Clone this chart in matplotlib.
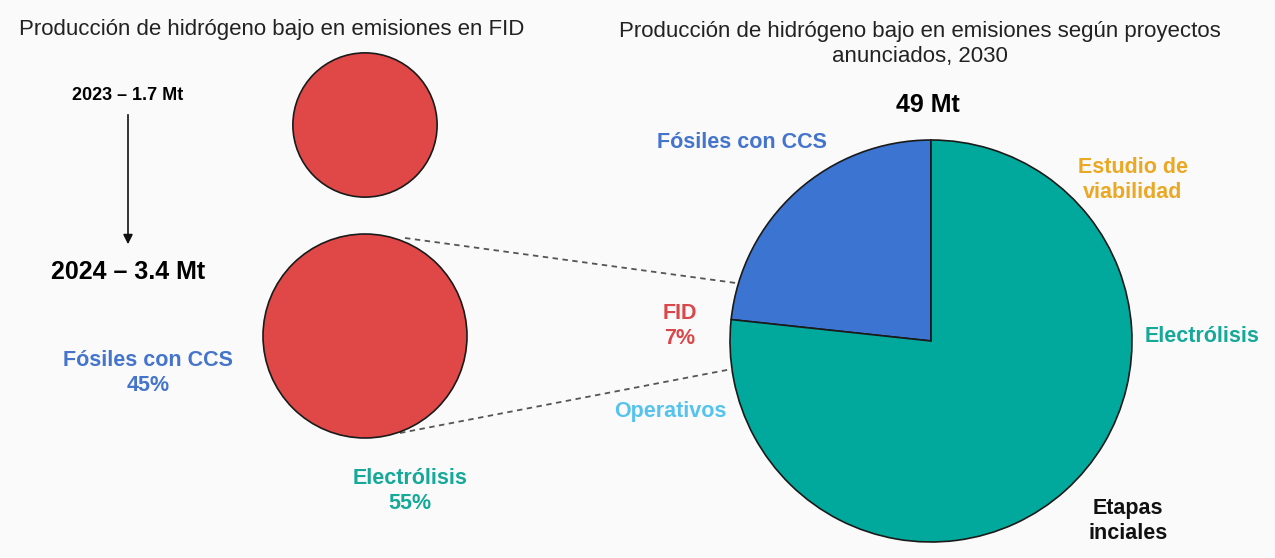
import numpy as np
import matplotlib
matplotlib.use('Agg')
import matplotlib.pyplot as plt
from matplotlib.patches import Circle

# Datos
years = ['2023', '2024']
fid_mt = [1.7, 3.4]
fid_shares = ['Fósiles con CCS', 'Electrólisis']
fid_pct = [45, 55]
total_2030 = 49
pie_labels = ['Fósiles con CCS', 'Electrólisis']
pie_shares = [23.3, 76.7]
stage_labels = ['Estudio de\nviabilidad', 'FID', 'Operativos', 'Etapas\ninciales']
fid_stage_pct = 7

W, H = 1275, 558
bg = '#fafafa'
red = '#e04848'
blue_txt = '#4474cc'
teal_txt = '#16a899'
wedge_colors = ['#3b74d1', '#00a99c']

plt.rcParams['font.family'] = ['Liberation Sans', 'DejaVu Sans']
lab = 15.5

fig = plt.figure(figsize=(W / 100, H / 100), dpi=100, facecolor=bg)
ax = fig.add_axes([0, 0, 1, 1])
ax.set_facecolor(bg)


def Y(py):
    # coordenadas en pixeles desde arriba
    return H - py


# Titulos
ax.text(272, Y(30), 'Producción de hidrógeno bajo en emisiones en FID',
        ha='center', va='center', fontsize=16, color='#222222')
ax.text(920, Y(44), 'Producción de hidrógeno bajo en emisiones según proyectos\nanunciados, 2030',
        ha='center', va='center', fontsize=16, color='#222222', linespacing=1.25)

# Circulos FID (area proporcional a Mt)
k = 102 / np.sqrt(fid_mt[1])
centers = [(365, Y(125)), (365, Y(336))]
for (cx, cy), v in zip(centers, fid_mt):
    ax.add_patch(Circle((cx, cy), k * np.sqrt(v), facecolor=red,
                        edgecolor='#1a1a1a', lw=1.2, zorder=3))

ax.text(128, Y(95), f'{years[0]} – {fid_mt[0]} Mt', ha='center', va='center',
        fontsize=13, fontweight='bold')
ax.annotate('', xy=(128, Y(247)), xytext=(128, Y(112)),
            arrowprops=dict(arrowstyle='-|>', color='#111111', lw=1.2,
                            mutation_scale=14))
ax.text(128, Y(272), f'{years[1]} – {fid_mt[1]} Mt', ha='center', va='center',
        fontsize=18, fontweight='bold')

ax.text(148, Y(373), f'{fid_shares[0]}\n{fid_pct[0]}%', ha='center', va='center',
        fontsize=lab, fontweight='bold', color=blue_txt, linespacing=1.2)
ax.text(410, Y(491), f'{fid_shares[1]}\n{fid_pct[1]}%', ha='center', va='center',
        fontsize=lab, fontweight='bold', color=teal_txt, linespacing=1.2)

# Lineas de conexion
ax.plot([405, 736], [Y(238), Y(283)], ls=(0, (3, 2.5)), color='#555555', lw=1.3, zorder=2)
ax.plot([400, 732], [Y(433), Y(369)], ls=(0, (3, 2.5)), color='#555555', lw=1.3, zorder=2)

# Pastel 2030
ax.pie(pie_shares, colors=wedge_colors, startangle=90, counterclock=True,
       center=(931, Y(341)), radius=201,
       wedgeprops=dict(edgecolor='#1a1a1a', linewidth=1.2), frame=True)

ax.text(928, Y(105), f'{total_2030} Mt', ha='center', va='center',
        fontsize=18, fontweight='bold')
ax.text(742, Y(143), pie_labels[0], ha='center', va='center',
        fontsize=lab, fontweight='bold', color=blue_txt)
ax.text(1202, Y(337), pie_labels[1], ha='center', va='center',
        fontsize=lab, fontweight='bold', color=teal_txt)
ax.text(1133, Y(180), stage_labels[0], ha='center', va='center',
        fontsize=lab, fontweight='bold', color='#eaa824', linespacing=1.2)
ax.text(680, Y(326), f'{stage_labels[1]}\n{fid_stage_pct}%', ha='center', va='center',
        fontsize=lab, fontweight='bold', color='#d9474a', linespacing=1.2)
ax.text(670, Y(412), stage_labels[2], ha='center', va='center',
        fontsize=lab, fontweight='bold', color='#55c3ee')
ax.text(1128, Y(521), stage_labels[3], ha='center', va='center',
        fontsize=lab, fontweight='bold', color='#111111', linespacing=1.2)

ax.set_xlim(0, W)
ax.set_ylim(0, H)
ax.set_aspect('auto')
ax.axis('off')

fig.savefig('out.png', dpi=100, facecolor=bg)
